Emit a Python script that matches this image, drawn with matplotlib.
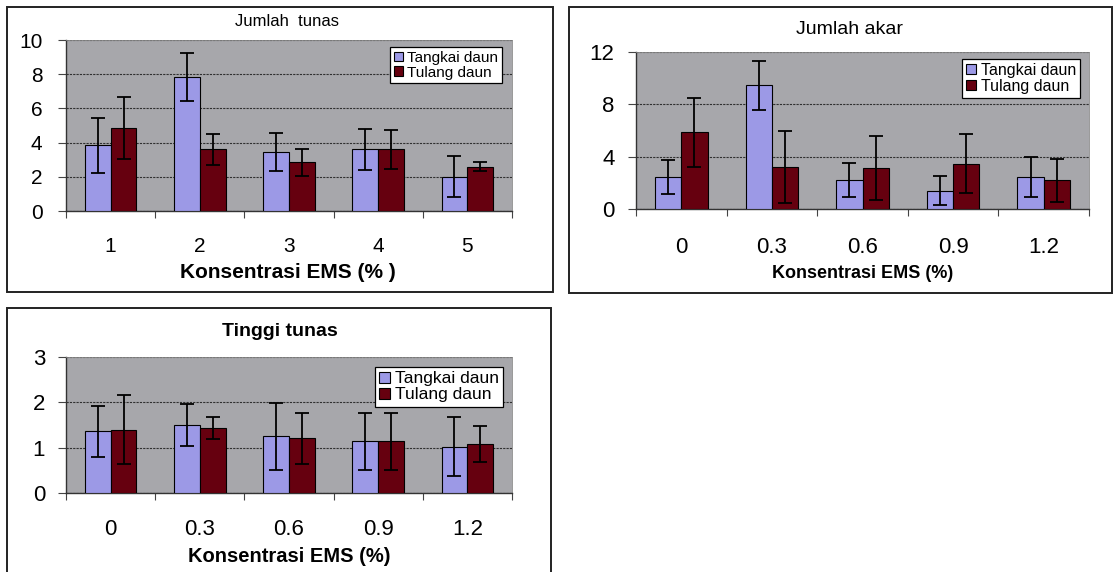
import numpy as np
import matplotlib
matplotlib.use("Agg")
import matplotlib.pyplot as plt
from matplotlib.patches import Rectangle

plt.rcParams['font.family'] = ['Liberation Sans', 'DejaVu Sans']

# data
label_tunas = ['1', '2', '3', '4', '5']
label_ems = ['0', '0.3', '0.6', '0.9', '1.2']
series = ['Tangkai daun', 'Tulang daun']

tunas_tangkai = [3.85, 7.85, 3.45, 3.6, 2.0]
tunas_tangkai_err = [1.6, 1.4, 1.1, 1.2, 1.2]
tunas_tulang = [4.85, 3.6, 2.85, 3.6, 2.6]
tunas_tulang_err = [1.8, 0.9, 0.8, 1.15, 0.25]

akar_tangkai = [2.45, 9.45, 2.2, 1.4, 2.45]
akar_tangkai_err = [1.27, 1.85, 1.3, 1.1, 1.5]
akar_tulang = [5.85, 3.2, 3.15, 3.45, 2.2]
akar_tulang_err = [2.65, 2.75, 2.45, 2.25, 1.65]

tinggi_tangkai = [1.36, 1.5, 1.25, 1.14, 1.02]
tinggi_tangkai_err = [0.57, 0.46, 0.74, 0.63, 0.65]
tinggi_tulang = [1.40, 1.44, 1.21, 1.14, 1.08]
tinggi_tulang_err = [0.77, 0.24, 0.56, 0.63, 0.39]

C_TANGKAI = '#9c99e6'
C_TULANG = '#66000f'
C_BG = '#a7a7ab'

W, H = 1117, 572
fig = plt.figure(figsize=(W / 100, H / 100), dpi=100)


def px_axes(x0, y0, x1, y1):
    # pixel box (top-left origin) -> figure fraction
    return fig.add_axes([x0 / W, 1 - y1 / H, (x1 - x0) / W, (y1 - y0) / H])


def frame(x0, y0, x1, y1):
    fig.add_artist(Rectangle((x0 / W, 1 - y1 / H), (x1 - x0) / W, (y1 - y0) / H,
                             transform=fig.transFigure, fill=False,
                             edgecolor='#222222', linewidth=1.4))


def panel(ax, labels, a, a_err, b, b_err, yticks, tick_fs, ypad, xpad,
          leg_anchor, leg_fs):
    x = np.arange(len(labels))
    w = 0.29
    ax.set_facecolor(C_BG)
    ax.bar(x - w / 2, a, w, color=C_TANGKAI, edgecolor='black', linewidth=0.8,
           label=series[0], zorder=3)
    ax.bar(x + w / 2, b, w, color=C_TULANG, edgecolor='black', linewidth=0.8,
           label=series[1], zorder=3)
    ax.errorbar(x - w / 2, a, yerr=a_err, fmt='none', ecolor='black',
                elinewidth=1.3, capsize=5, capthick=1.3, zorder=4)
    ax.errorbar(x + w / 2, b, yerr=b_err, fmt='none', ecolor='black',
                elinewidth=1.3, capsize=5, capthick=1.3, zorder=4)
    ax.set_xlim(-0.5, len(labels) - 0.5)
    ax.set_ylim(yticks[0], yticks[-1])
    ax.set_yticks(yticks)
    ax.yaxis.grid(True, color='#303030', linestyle=(0, (2, 1)), linewidth=0.8,
                  zorder=1)
    ax.set_axisbelow(True)
    ax.set_xticks(x)
    ax.set_xticklabels(labels)
    ax.set_xticks(np.arange(len(labels) + 1) - 0.5, minor=True)
    ax.tick_params(axis='x', which='major', length=0, pad=xpad, labelsize=tick_fs)
    ax.tick_params(axis='x', which='minor', length=5, width=0.8, color='#444444')
    ax.tick_params(axis='y', length=6, width=0.8, pad=ypad, labelsize=tick_fs,
                   color='#444444')
    for s in ['top', 'right']:
        ax.spines[s].set_color('#888888')
        ax.spines[s].set_linewidth(0.6)
    for s in ['left', 'bottom']:
        ax.spines[s].set_color('#333333')
        ax.spines[s].set_linewidth(1.0)
    leg = ax.legend(loc='upper right', bbox_to_anchor=leg_anchor, borderaxespad=0,
                    fontsize=leg_fs, frameon=True, fancybox=False, framealpha=1,
                    edgecolor='black', borderpad=0.25, labelspacing=0.05,
                    handlelength=0.6, handleheight=0.6, handletextpad=0.3)
    leg.get_frame().set_linewidth(0.9)
    leg.set_zorder(10)


# Jumlah tunas
frame(7, 7, 553, 292)
ax1 = px_axes(66, 40, 512, 211)
panel(ax1, label_tunas, tunas_tangkai, tunas_tangkai_err, tunas_tulang,
      tunas_tulang_err, [0, 2, 4, 6, 8, 10], 15, 11, 19, (0.978, 0.959), 11)
fig.text(287 / W, 1 - 21 / H, 'Jumlah  tunas', ha='center', va='center', fontsize=12)
fig.text(288 / W, 1 - 273 / H, 'Konsentrasi EMS (% )', ha='center', va='center',
         fontsize=15, fontweight='bold')

# Jumlah akar
frame(569, 7, 1112, 293)
ax2 = px_axes(636, 52, 1089, 209)
panel(ax2, label_ems, akar_tangkai, akar_tangkai_err, akar_tulang,
      akar_tulang_err, [0, 4, 8, 12], 16, 9.5, 20, (0.980, 0.955), 11.5)
fig.text(850 / W, 1 - 30 / H, 'Jumlah akar', ha='center', va='center', fontsize=14)
fig.text(863 / W, 1 - 273 / H, 'Konsentrasi EMS (%)', ha='center', va='center',
         fontsize=13, fontweight='bold',
         family=['Liberation Sans Narrow', 'Liberation Sans'])

# Tinggi tunas
frame(7, 308, 551, 580)
ax3 = px_axes(66, 357, 512, 493)
panel(ax3, label_ems, tinggi_tangkai, tinggi_tangkai_err, tinggi_tulang,
      tinggi_tulang_err, [0, 1, 2, 3], 16, 9, 19, (0.98, 0.926), 12.5)
fig.text(280 / W, 1 - 332 / H, 'Tinggi tunas', ha='center', va='center',
         fontsize=14, fontweight='bold')
fig.text(289 / W, 1 - 557 / H, 'Konsentrasi EMS (%)', ha='center', va='center',
         fontsize=14.5, fontweight='bold',
         family=['Liberation Sans Narrow', 'Liberation Sans'])

fig.savefig('out.png', dpi=100)
